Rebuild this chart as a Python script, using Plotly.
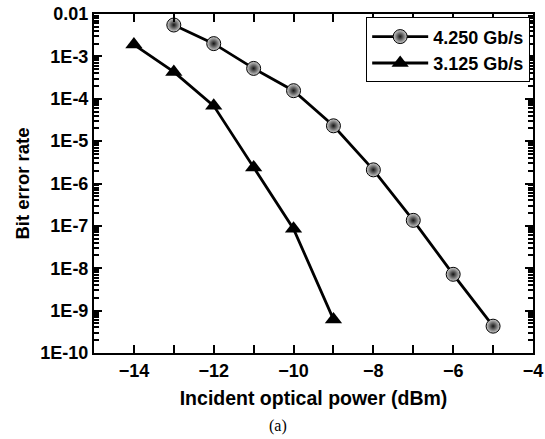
import plotly.graph_objects as go

x_425 = [-13, -12, -11, -10, -9, -8, -7, -6, -5]
ber_425 = [5.5e-3, 2.0e-3, 5.2e-4, 1.55e-4, 2.3e-5, 2.1e-6, 1.35e-7, 7.2e-9, 4.3e-10]
x_3125 = [-14, -13, -12, -11, -10, -9]
ber_3125 = [1.9e-3, 4.3e-4, 6.8e-5, 2.4e-6, 8.5e-8, 6.2e-10]

ytick_vals = [1e-2, 1e-3, 1e-4, 1e-5, 1e-6, 1e-7, 1e-8, 1e-9, 1e-10]
ytick_text = ["0.01", "1E-3", "1E-4", "1E-5", "1E-6", "1E-7", "1E-8", "1E-9", "1E-10"]
ymin_tick_vals = [m * 10.0 ** e for e in range(-10, -2) for m in range(2, 10)]
xtick_vals = [-14, -12, -10, -8, -6, -4]

fig = go.Figure()
fig.add_trace(go.Scatter(
    x=x_425, y=ber_425, mode="lines+markers", name="4.250 Gb/s",
    line=dict(color="black", width=2.8),
    marker=dict(symbol="circle", size=14, color="#cfcfcf",
                gradient=dict(type="radial", color="#151515"),
                line=dict(color="black", width=1)),
))
fig.add_trace(go.Scatter(
    x=x_3125, y=ber_3125, mode="lines+markers", name="3.125 Gb/s",
    line=dict(color="black", width=2.8),
    marker=dict(symbol="triangle-up", size=15, color="black"),
))
# transparent helper trace (reuses the 3.125 data) so the minor-tick overlay axis is drawn
fig.add_trace(go.Scatter(x=x_3125, y=ber_3125, yaxis="y2", showlegend=False,
                         hoverinfo="skip", mode="markers",
                         marker=dict(opacity=0, size=1)))

tfont = dict(family="Liberation Sans", size=18, color="black", weight="bold")
fig.update_layout(
    width=545, height=439,
    margin=dict(l=94, r=12, t=14, b=86),
    paper_bgcolor="white", plot_bgcolor="white",
    font=dict(family="Liberation Sans", color="black"),
    legend=dict(x=0.62, y=0.99, xanchor="left", yanchor="top",
                bordercolor="black", borderwidth=1, bgcolor="white",
                font=tfont, itemwidth=56, tracegroupgap=0),
    showlegend=True,
    yaxis2=dict(type="log", range=[-10, -2], overlaying="y", side="left",
                tickmode="array", tickvals=ymin_tick_vals, ticktext=[""] * len(ymin_tick_vals),
                ticks="inside", ticklen=5, tickwidth=1.5, tickcolor="black",
                showline=True, linecolor="black", linewidth=2, mirror="ticks",
                showgrid=False, zeroline=False, automargin=False),
)
fig.update_xaxes(
    range=[-15, -4], tickvals=xtick_vals, ticks="inside", ticklen=8, tickwidth=2,
    tickcolor="black",
    showline=True, linecolor="black", linewidth=2, mirror="allticks",
    showgrid=False, zeroline=False, automargin=False,
    tickfont=tfont,
    minor=dict(dtick=1, ticks="inside", ticklen=5, tickwidth=1.5, tickcolor="black", showgrid=False),
    title=dict(text="Incident optical power (dBm)",
               font=dict(family="Liberation Sans", size=19.5, color="black", weight="bold"),
               standoff=12),
)
fig.layout.yaxis.update(
    type="log", range=[-10, -2], tickvals=ytick_vals, ticktext=ytick_text,
    ticks="inside", ticklen=8, tickwidth=2, tickcolor="black",
    showline=True, linecolor="black", linewidth=2, mirror="allticks",
    showgrid=False, zeroline=False, automargin=False,
    tickfont=tfont,
    title=dict(text="Bit error rate",
               font=dict(family="Liberation Sans", size=18.5, color="black", weight="bold"),
               standoff=6),
)
fig.add_annotation(text="(a)", xref="paper", yref="paper", x=0.418, y=-0.215,
                   xanchor="center", yanchor="middle", showarrow=False,
                   font=dict(family="Liberation Serif", size=16, color="black"))
fig.write_html("out.html", config={"displayModeBar": False},
               post_script="document.body.style.margin='0';")
